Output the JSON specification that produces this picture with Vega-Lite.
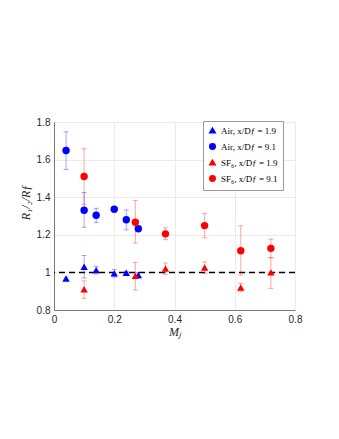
{
  "$schema": "https://vega.github.io/schema/vega-lite/v6.json",
  "width": 241,
  "height": 188,
  "autosize": "none",
  "padding": {"left": 54, "top": 122, "right": 44, "bottom": 129},
  "background": "white",
  "config": {
    "view": {"stroke": "#e6e6e6", "strokeWidth": 1},
    "axis": {
      "labelFont": "Liberation Sans",
      "labelFontSize": 10,
      "labelColor": "#262626",
      "labelOverlap": false,
      "labelFlush": false,
      "gridColor": "#ebebeb",
      "gridWidth": 1,
      "domainColor": "#7a7a7a",
      "ticks": false,
      "format": "~g",
      "titleFont": "Liberation Serif",
      "titleFontWeight": "normal",
      "titleFontStyle": "italic",
      "titleFontSize": 12,
      "titleColor": "#262626"
    },
    "legend": {
      "orient": "none", "legendX": 149, "legendY": -1,
      "labelFont": "Liberation Serif", "labelFontSize": 9, "labelColor": "#000000",
      "symbolOpacity": 1,
      "strokeColor": "#9a9a9a", "fillColor": "white", "padding": 5, "rowPadding": 4, "symbolSize": 30, "labelLimit": 200
    }
  },
  "datasets": {
    "pts": [
      {"series": "Air, x/D_f = 1.9", "M": 0.04, "y": 0.968, "lo": 0.962, "hi": 0.974},
      {"series": "Air, x/D_f = 1.9", "M": 0.10, "y": 1.03, "lo": 0.97, "hi": 1.09},
      {"series": "Air, x/D_f = 1.9", "M": 0.14, "y": 1.012, "lo": 0.992, "hi": 1.032},
      {"series": "Air, x/D_f = 1.9", "M": 0.20, "y": 0.995, "lo": 0.975, "hi": 1.015},
      {"series": "Air, x/D_f = 1.9", "M": 0.24, "y": 0.998, "lo": 0.99, "hi": 1.006},
      {"series": "Air, x/D_f = 1.9", "M": 0.28, "y": 0.986, "lo": 0.97, "hi": 1.0},
      {"series": "Air, x/D_f = 9.1", "M": 0.04, "y": 1.648, "lo": 1.548, "hi": 1.748},
      {"series": "Air, x/D_f = 9.1", "M": 0.10, "y": 1.331, "lo": 1.24, "hi": 1.425},
      {"series": "Air, x/D_f = 9.1", "M": 0.14, "y": 1.304, "lo": 1.265, "hi": 1.341},
      {"series": "Air, x/D_f = 9.1", "M": 0.20, "y": 1.336, "lo": 1.33, "hi": 1.342},
      {"series": "Air, x/D_f = 9.1", "M": 0.24, "y": 1.28, "lo": 1.226, "hi": 1.332},
      {"series": "Air, x/D_f = 9.1", "M": 0.28, "y": 1.232, "lo": 1.22, "hi": 1.245},
      {"series": "SF6, x/D_f = 1.9", "M": 0.10, "y": 0.91, "lo": 0.862, "hi": 0.955},
      {"series": "SF6, x/D_f = 1.9", "M": 0.27, "y": 0.982, "lo": 0.907, "hi": 1.053},
      {"series": "SF6, x/D_f = 1.9", "M": 0.37, "y": 1.02, "lo": 0.99, "hi": 1.05},
      {"series": "SF6, x/D_f = 1.9", "M": 0.50, "y": 1.026, "lo": 0.995, "hi": 1.056},
      {"series": "SF6, x/D_f = 1.9", "M": 0.62, "y": 0.92, "lo": 0.9, "hi": 0.941},
      {"series": "SF6, x/D_f = 1.9", "M": 0.72, "y": 1.0, "lo": 0.915, "hi": 1.078},
      {"series": "SF6, x/D_f = 9.1", "M": 0.10, "y": 1.51, "lo": 1.362, "hi": 1.658},
      {"series": "SF6, x/D_f = 9.1", "M": 0.27, "y": 1.267, "lo": 1.156, "hi": 1.382},
      {"series": "SF6, x/D_f = 9.1", "M": 0.37, "y": 1.205, "lo": 1.174, "hi": 1.237},
      {"series": "SF6, x/D_f = 9.1", "M": 0.50, "y": 1.249, "lo": 1.184, "hi": 1.314},
      {"series": "SF6, x/D_f = 9.1", "M": 0.62, "y": 1.115, "lo": 0.986, "hi": 1.248},
      {"series": "SF6, x/D_f = 9.1", "M": 0.72, "y": 1.128, "lo": 1.078, "hi": 1.177}
    ]
  },
  "layer": [
    {
      "data": {"values": [{"ref": 1}]},
      "mark": {"type": "rule", "color": "black", "strokeDash": [6, 4], "strokeWidth": 1.5},
      "encoding": {"y": {"field": "ref", "type": "quantitative", "title": "R₁/₂/Rƒ",
        "scale": {"domain": [0.8, 1.8], "nice": false, "zero": false},
        "axis": {"values": [0.8, 1, 1.2, 1.4, 1.6, 1.8], "labelPadding": 4, "titlePadding": 4, "titleY": 80}}}
    },
    {
      "data": {"name": "pts"},
      "mark": {"type": "errorbar", "ticks": {"size": 5, "opacity": 0.35}, "opacity": 0.35, "thickness": 1},
      "encoding": {
        "x": {"field": "M", "type": "quantitative", "title": "Mⱼ",
          "scale": {"domain": [0, 0.8], "nice": false, "zero": false},
          "axis": {"values": [0, 0.2, 0.4, 0.6, 0.8], "labelPadding": 4, "titlePadding": 2}},
        "y": {"field": "lo", "type": "quantitative", "title": "R₁/₂/Rƒ",
          "scale": {"domain": [0.8, 1.8], "nice": false, "zero": false},
          "axis": {"values": [0.8, 1, 1.2, 1.4, 1.6, 1.8], "labelPadding": 4, "titlePadding": 4, "titleY": 80}},
        "y2": {"field": "hi"},
        "color": {"field": "series", "type": "nominal",
          "scale": {"domain": ["Air, x/D_f = 1.9", "Air, x/D_f = 9.1", "SF6, x/D_f = 1.9", "SF6, x/D_f = 9.1"], "range": ["#0000ff", "#0000ff", "#ff0000", "#ff0000"]},
          "legend": {"title": null,
            "labelExpr": "replace(replace(datum.label, 'SF6', 'SF₆'), 'x/D_f', 'x/Dƒ')"}}
      }
    },
    {
      "data": {"name": "pts"},
      "mark": {"type": "point", "filled": true, "opacity": 1, "size": 55},
      "encoding": {
        "x": {"field": "M", "type": "quantitative", "title": "Mⱼ",
          "scale": {"domain": [0, 0.8], "nice": false, "zero": false},
          "axis": {"values": [0, 0.2, 0.4, 0.6, 0.8], "labelPadding": 4, "titlePadding": 2}},
        "y": {"field": "y", "type": "quantitative", "title": "R₁/₂/Rƒ",
          "scale": {"domain": [0.8, 1.8], "nice": false, "zero": false},
          "axis": {"values": [0.8, 1, 1.2, 1.4, 1.6, 1.8], "labelPadding": 4, "titlePadding": 4, "titleY": 80}},
        "color": {"field": "series", "type": "nominal",
          "scale": {"domain": ["Air, x/D_f = 1.9", "Air, x/D_f = 9.1", "SF6, x/D_f = 1.9", "SF6, x/D_f = 9.1"], "range": ["#0000ff", "#0000ff", "#ff0000", "#ff0000"]},
          "legend": {"title": null,
            "labelExpr": "replace(replace(datum.label, 'SF6', 'SF₆'), 'x/D_f', 'x/Dƒ')"}},
        "shape": {"field": "series", "type": "nominal",
          "scale": {"domain": ["Air, x/D_f = 1.9", "Air, x/D_f = 9.1", "SF6, x/D_f = 1.9", "SF6, x/D_f = 9.1"], "range": ["triangle-up", "circle", "triangle-up", "circle"]},
          "legend": {"title": null,
            "labelExpr": "replace(replace(datum.label, 'SF6', 'SF₆'), 'x/D_f', 'x/Dƒ')"}}
      }
    }
  ]
}
